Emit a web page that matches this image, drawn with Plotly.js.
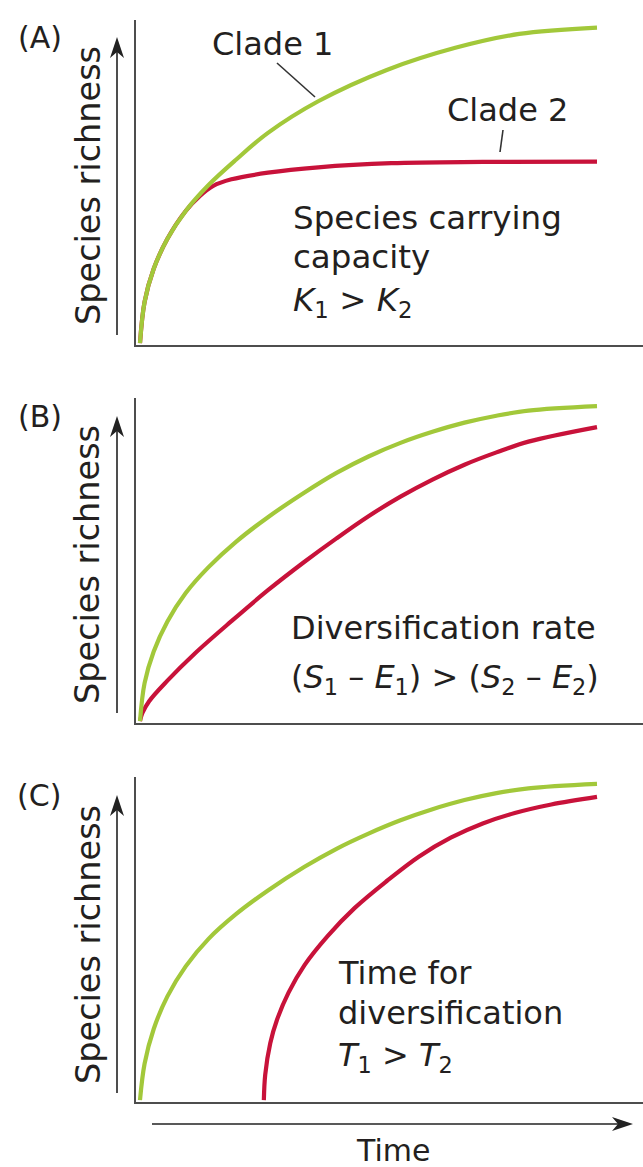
<!DOCTYPE html>
<html><head><meta charset="utf-8">
<script src="https://cdn.plot.ly/plotly-3.0.1.min.js"></script>
<style>html,body{margin:0;padding:0;background:#fff;}#chart{width:643px;height:1167px;}</style>
</head><body><div id="chart"></div>
<script>
// ---------- data (time in arbitrary units 0-10, richness 0-100) ----------
const timeA_clade1 = [0, 0.1, 0.3, 0.6, 1.0, 1.5, 2.1, 2.8, 3.9, 5.4, 6.9, 8.3, 10];
const richA_clade1 = [0, 13, 23.5, 33.0, 41.8, 50, 58, 66.5, 76.5, 86.4, 93.4, 97.8, 99.8];
const timeA_clade2 = [0, 0.1, 0.3, 0.6, 1.0, 1.3, 1.6, 2.0, 2.8, 3.9, 5.5, 7.5, 10];
const richA_clade2 = [0, 13, 23.5, 33.0, 41.8, 46.4, 49.7, 51.8, 53.9, 55.6, 56.9, 57.3, 57.4];

const timeB_clade1 = [0, 0.1, 0.3, 0.6, 1.0, 1.5, 2.1, 2.8, 3.6, 4.3, 5.0, 5.7, 6.4, 7.1, 7.8, 8.5, 10];
const richB_clade1 = [0, 12, 22.0, 31.5, 40.5, 48.7, 56.7, 64.5, 72.3, 78.5, 83.7, 88.0, 91.5, 94.4, 96.6, 98.2, 99.6];
const timeB_clade2 = [0, 0.05, 0.2, 0.6, 1.2, 2.0, 2.8, 3.6, 4.3, 5.0, 5.7, 6.4, 7.1, 7.8, 8.5, 10];
const richB_clade2 = [0, 2.5, 6.3, 12.8, 21.4, 31.6, 41.4, 50.4, 57.8, 64.8, 71.0, 76.4, 81.1, 85.0, 88.4, 93.0];

const timeC_clade1 = [0, 0.1, 0.3, 0.6, 1.0, 1.5, 2.1, 2.8, 3.6, 4.3, 5.0, 5.7, 6.4, 7.1, 7.8, 8.5, 10];
const richC_clade1 = [0, 11.5, 22.5, 32.8, 42.3, 51.0, 58.8, 66.3, 73.8, 79.5, 84.3, 88.5, 92.0, 94.9, 97.1, 98.6, 100];
const timeC_clade2 = [2.71, 2.74, 2.85, 3.0, 3.25, 3.6, 4.1, 4.7, 5.4, 6.1, 6.8, 7.5, 8.2, 9.0, 10];
const richC_clade2 = [0, 8, 18, 25.5, 34, 42.7, 51.8, 60.8, 69.3, 77.0, 83.0, 87.5, 90.8, 93.5, 95.9];

const panelLabels = ['(A)', '(B)', '(C)'];
const yTitle = 'Species richness';
const xTitle = 'Time';

// ---------- helpers ----------
const W = 643, H = 1167;
const px = v => v / W;
const py = v => 1 - v / H;
const GREEN = '#a2c83a', RED = '#c8123a';
const FONT = 'DejaVu Sans';
const TXT = '#231f20';
const AXC = '#4d4d4d';

const xr = [-4 / 45.7, 503 / 45.7];
const yr = [-0.6, 102.2];
const dom = (top, bottom) => [py(bottom), py(top)];

function tr(x, y, color, xa, ya) {
  return {x, y, type: 'scatter', mode: 'lines', xaxis: xa, yaxis: ya, hoverinfo: 'skip',
    line: {color, width: 4.2, shape: 'spline', smoothing: 1}};
}
const axX = anchor => ({domain: [px(136), 1], range: xr, anchor, showline: true, linecolor: AXC, linewidth: 1.8,
  showgrid: false, zeroline: false, showticklabels: false, ticks: '', fixedrange: true});
const axY = (d, anchor) => ({domain: d, range: yr, anchor, showline: true, linecolor: AXC, linewidth: 1.8,
  showgrid: false, zeroline: false, showticklabels: false, ticks: '', fixedrange: true});

function label(text, left, baseline, size, extra) {
  return Object.assign({xref: 'paper', yref: 'paper', x: px(left), y: py(baseline - 0.928 * size),
    xanchor: 'left', yanchor: 'top', text, showarrow: false, borderpad: 0,
    font: {family: FONT, size, color: TXT}}, extra || {});
}
function vlabel(text, cx, cy) {
  return {xref: 'paper', yref: 'paper', x: px(cx), y: py(cy), xanchor: 'center', yanchor: 'middle',
    text, textangle: -90, showarrow: false, borderpad: 0, font: {family: FONT, size: 33.5, color: TXT}};
}
function seg(x0, y0, x1, y1, w, c) {
  return {type: 'line', xref: 'paper', yref: 'paper', x0: px(x0), y0: py(y0), x1: px(x1), y1: py(y1),
    line: {color: c, width: w}};
}
function poly(pts, c) {
  return {type: 'path', xref: 'paper', yref: 'paper',
    path: 'M' + pts.map(p => px(p[0]) + ',' + py(p[1])).join('L') + 'Z',
    fillcolor: c, line: {width: 0}};
}
function upArrow(x, bottom, tip) {
  return [seg(x, bottom, x, tip + 14, 1.6, '#222'),
    poly([[x, tip], [x - 7, tip + 21], [x, tip + 15], [x + 7, tip + 21]], '#222')];
}

const data = [
  tr(timeA_clade2, richA_clade2, RED, 'x', 'y'),
  tr(timeA_clade1, richA_clade1, GREEN, 'x', 'y'),
  tr(timeB_clade2, richB_clade2, RED, 'x2', 'y2'),
  tr(timeB_clade1, richB_clade1, GREEN, 'x2', 'y2'),
  tr(timeC_clade2, richC_clade2, RED, 'x3', 'y3'),
  tr(timeC_clade1, richC_clade1, GREEN, 'x3', 'y3')
];

const annotations = [
  label(panelLabels[0], 17, 47, 30),
  label(panelLabels[1], 17, 426, 30),
  label(panelLabels[2], 16, 805, 30),
  vlabel(yTitle, 88, 186),
  vlabel(yTitle, 88, 565),
  vlabel(yTitle, 88, 945),
  label('Clade 1', 211, 54, 32),
  label('Clade 2', 446, 120, 32),
  label('Species carrying', 292, 228, 32.5),
  label('capacity', 292, 267, 32.5),
  label('<i>K</i><sub>1</sub> &gt; <i>K</i><sub>2</sub>', 292, 310, 32.5),
  label('Diversification rate', 290, 638, 32),
  label('(<i>S</i><sub>1</sub> – <i>E</i><sub>1</sub>) &gt; (<i>S</i><sub>2</sub> – <i>E</i><sub>2</sub>)', 290, 687, 32),
  label('Time for', 337, 983, 32),
  label('diversification', 337, 1023, 32),
  label('<i>T</i><sub>1</sub> &gt; <i>T</i><sub>2</sub>', 337, 1065, 32),
  label(xTitle, 355, 1160, 30)
];

const shapes = [
  seg(277, 63, 315, 97, 1.6, '#333'),
  seg(503, 130, 500, 152, 1.6, '#333'),
  ...upArrow(117, 335, 37),
  ...upArrow(117, 713, 416),
  ...upArrow(117, 1093, 795),
  seg(152, 1124, 618, 1124, 1.6, '#222'),
  poly([[633, 1124], [612, 1117], [618, 1124], [612, 1131]], '#222')
];

const layout = {
  width: W, height: H, margin: {l: 0, r: 0, t: 0, b: 0}, showlegend: false,
  paper_bgcolor: '#fff', plot_bgcolor: '#fff',
  xaxis: axX('y'), yaxis: axY(dom(20, 345), 'x'),
  xaxis2: axX('y2'), yaxis2: axY(dom(398, 723), 'x2'),
  xaxis3: axX('y3'), yaxis3: axY(dom(777, 1102), 'x3'),
  annotations, shapes
};
Plotly.newPlot('chart', data, layout, {staticPlot: true, displayModeBar: false});
</script></body></html>
